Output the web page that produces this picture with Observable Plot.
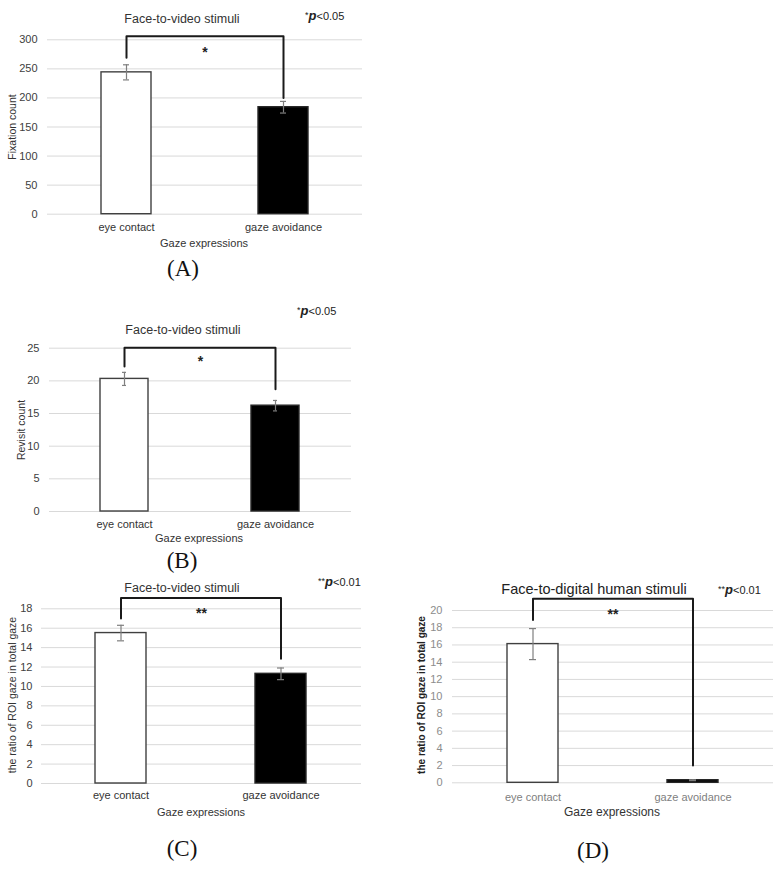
<!DOCTYPE html>
<html><head><meta charset="utf-8">
<script src="https://cdn.jsdelivr.net/npm/d3@7"></script>
<script src="https://cdn.jsdelivr.net/npm/@observablehq/plot@0.6"></script>
<style>
body{margin:0;background:#fff;font-family:"Liberation Sans",Arial,sans-serif;}
#fig{position:relative;width:783px;height:872px;overflow:hidden;background:#fff;}
.abs{position:absolute;white-space:nowrap;transform:translate(-50%,-50%);line-height:1;}
.pv{position:absolute;white-space:nowrap;transform:translate(0,-50%);line-height:1;font-size:11px;color:#222;}
.pv b{font-style:italic;font-size:13px;}
.pv .st{font-size:9px;vertical-align:2px;}
.ttl{font-size:12.5px;color:#333;}
.axt{font-size:11px;color:#333;}
.ylab{font-size:10.5px;color:#333;transform:translate(-50%,-50%) rotate(-90deg);}
.lett{font-family:"Liberation Serif","DejaVu Serif",serif;font-size:23px;color:#111;}
svg{position:absolute;overflow:visible;}
</style></head><body><div id="fig"></div>
<script>
// ---- data ----
const categories = ["eye contact", "gaze avoidance"];
const fixationMeans = [244, 184];
const fixationErrors = [13, 10];
const revisitMeans = [20.3, 16.2];
const revisitErrors = [1.0, 0.8];
const ratioVideoMeans = [15.5, 11.3];
const ratioVideoErrors = [0.8, 0.6];
const ratioDigitalMeans = [16.1, 0.3];
const ratioDigitalErrors = [1.8, 0.05];
const fixationTicks = [0, 50, 100, 150, 200, 250, 300];
const revisitTicks = [0, 5, 10, 15, 20, 25];
const ratioVideoTicks = [0, 2, 4, 6, 8, 10, 12, 14, 16, 18];
const ratioDigitalTicks = [0, 2, 4, 6, 8, 10, 12, 14, 16, 18, 20];
// significance brackets: [left leg end, top, right leg end]
const fixationBracket = [269, 306, 200];
const revisitBracket = [22.2, 25.05, 18.7];
const ratioVideoBracket = [17.0, 19.1, 12.85];
const ratioDigitalBracket = [18.9, 21.35, 2.0];
const sigMarks = ["*", "*", "**", "**"];
const sigLevels = [285, 23.5, 17.9, 20.0];
const titles = ["Face-to-video stimuli", "Face-to-video stimuli", "Face-to-video stimuli", "Face-to-digital human stimuli"];
const pTexts = [["*", "<0.05"], ["*", "<0.05"], ["**", "<0.01"], ["**", "<0.01"]];
const yLabels = ["Fixation count", "Revisit count", "the ratio of ROI gaze in total gaze", "the ratio of ROI gaze in total gaze"];
const xLabel = "Gaze expressions";
const letters = ["(A)", "(B)", "(C)", "(D)"];

const fig = document.getElementById("fig");

function addDiv(cls, html, x, y, extra) {
  const d = document.createElement("div");
  d.className = cls;
  d.innerHTML = html;
  d.style.left = x + "px";
  d.style.top = y + "px";
  if (extra) Object.assign(d.style, extra);
  fig.appendChild(d);
  return d;
}

function panel(cfg) {
  const data = categories.map((c, i) => ({cat: c, mean: cfg.means[i], err: cfg.errors[i]}));
  const br = cfg.bracket;
  const bracket = [
    {cat: categories[0], v: br[0]},
    {cat: categories[0], v: br[1]},
    {cat: categories[1], v: br[1]},
    {cat: categories[1], v: br[2]}
  ];
  const [fx0, fx1, fy0, fy1] = cfg.frame;
  const plot = Plot.plot({
    width: cfg.w, height: cfg.h,
    marginLeft: fx0 - cfg.left, marginRight: cfg.left + cfg.w - fx1,
    marginTop: fy0 - cfg.top, marginBottom: cfg.top + cfg.h - fy1,
    x: {domain: categories, paddingInner: 0.68, paddingOuter: 0.34, axis: null},
    y: {domain: [0, cfg.ticks[cfg.ticks.length - 1]], axis: null},
    style: {background: "none", fontFamily: "'Liberation Sans', Arial, sans-serif", fontSize: "11px", overflow: "visible"},
    marks: [
      Plot.gridY(cfg.ticks, {stroke: "#d9d9d9", strokeOpacity: 1, strokeWidth: 1}),
      Plot.axisY(cfg.ticks, {tickSize: 0, tickPadding: cfg.tickPad, label: null, fill: cfg.tickColor, fontSize: 11}),
      Plot.axisX({tickSize: 0, tickPadding: cfg.xPad, label: null, fill: cfg.xColor, fontSize: 11}),
      Plot.barY(data, {filter: d => d.cat === categories[0], x: "cat", y: "mean", fill: "white", stroke: "#404040", strokeWidth: 1.4}),
      Plot.barY(data, {filter: d => d.cat === categories[1], x: "cat", y: "mean", fill: "black", stroke: "#262626", strokeWidth: 1.4}),
      Plot.ruleX(data, {x: "cat", y1: d => d.mean - d.err, y2: d => d.mean + d.err, stroke: "#7f7f7f", strokeWidth: 1.2}),
      Plot.tickY(data, {x: "cat", y: d => d.mean + d.err, insetLeft: 22, insetRight: 22, stroke: "#7f7f7f", strokeWidth: 1.2}),
      Plot.tickY(data, {x: "cat", y: d => d.mean - d.err, insetLeft: 22, insetRight: 22, stroke: "#7f7f7f", strokeWidth: 1.2}),
      Plot.line(bracket, {x: "cat", y: "v", stroke: "#1a1a1a", strokeWidth: 2}),
      Plot.text([{v: cfg.sigLevel, s: cfg.sig}], {y: "v", text: "s", frameAnchor: "middle", fontSize: 14, fontWeight: "bold", fill: "#222", dy: 4})
    ]
  });
  plot.style.left = cfg.left + "px";
  plot.style.top = cfg.top + "px";
  fig.appendChild(plot);
}

const panels = [
  {means: fixationMeans, errors: fixationErrors, ticks: fixationTicks, bracket: fixationBracket,
   left: 0, top: 0, w: 400, h: 260, frame: [47, 362, 39.3, 213.7], tickPad: 10, xPad: 9,
   tickColor: "#404040", xColor: "#333"},
  {means: revisitMeans, errors: revisitErrors, ticks: revisitTicks, bracket: revisitBracket,
   left: 0, top: 290, w: 400, h: 260, frame: [49, 351, 347.7, 511], tickPad: 10, xPad: 8.5,
   tickColor: "#404040", xColor: "#333"},
  {means: ratioVideoMeans, errors: ratioVideoErrors, ticks: ratioVideoTicks, bracket: ratioVideoBracket,
   left: 0, top: 545, w: 400, h: 280, frame: [41, 361, 608.3, 783], tickPad: 9, xPad: 8,
   tickColor: "#404040", xColor: "#333"},
  {means: ratioDigitalMeans, errors: ratioDigitalErrors, ticks: ratioDigitalTicks, bracket: ratioDigitalBracket,
   left: 390, top: 545, w: 393, h: 280, frame: [452, 773, 610, 782.3], tickPad: 10, xPad: 10,
   tickColor: "#8c8c8c", xColor: "#808080"}
];

const titlePos = [[182, 19], [183, 330], [182, 588], [594, 589]];
const pPos = [[305, 15], [297, 310], [318, 581], [718, 589]];
const xtPos = [[204, 243], [199, 538], [201, 812], [612, 812]];
const ytPos = [[12, 127], [21, 430], [12, 695], [422, 695]];
const letterPos = [[183, 268], [182, 560], [182, 848], [593, 850]];

panels.forEach((cfg, i) => {
  cfg.sig = sigMarks[i];
  cfg.sigLevel = sigLevels[i];
  panel(cfg);
  addDiv("abs ttl", titles[i], titlePos[i][0], titlePos[i][1], i === 3 ? {fontSize: "14.5px", color: "#222"} : null);
  addDiv("pv", `<span class="st">${pTexts[i][0]}</span><b>p</b>${pTexts[i][1].replace("<", "&lt;")}`, pPos[i][0], pPos[i][1]);
  addDiv("abs axt", xLabel, xtPos[i][0], xtPos[i][1], i === 3 ? {fontSize: "12px"} : null);
  addDiv("abs ylab", yLabels[i], ytPos[i][0], ytPos[i][1], i === 3 ? {fontWeight: "bold", fontSize: "10px", color: "#222"} : null);
  addDiv("abs lett", letters[i], letterPos[i][0], letterPos[i][1]);
});
</script>
</body></html>
